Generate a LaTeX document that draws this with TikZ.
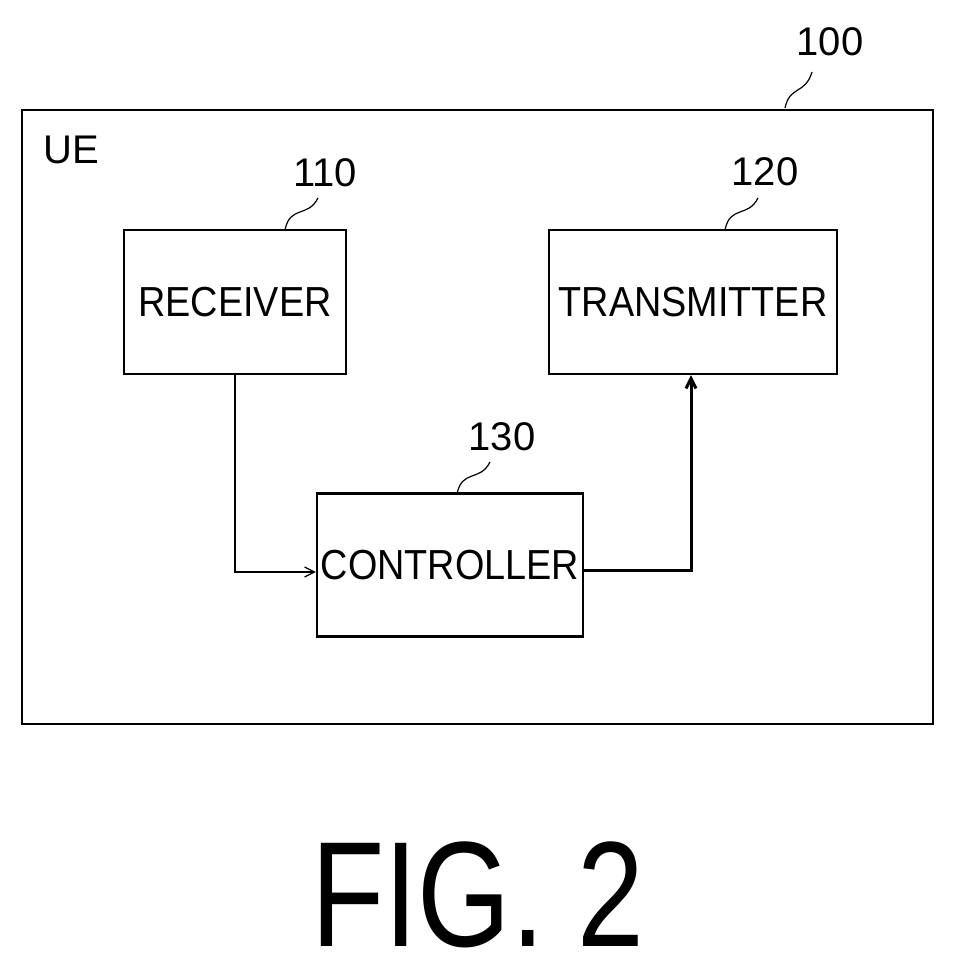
\documentclass[tikz,border=0pt]{standalone}
\usepackage{fontspec}
\setmainfont{Liberation Sans}
\usetikzlibrary{arrows.meta}
\begin{document}
\begin{tikzpicture}[x=1pt,y=-1pt,
 box/.style={draw,line width=2.2pt,inner sep=0pt},
 lbl/.style={font=\fontsize{42}{44}\selectfont},
 num/.style={font=\fontsize{40}{42}\selectfont},
 lead/.style={line width=1.2pt},
 arr/.style={-{Straight Barb[length=10pt,width=10pt]}}]
\useasboundingbox (0,0) rectangle (957,973);
\draw[box] (22,110) rectangle (933,724);
\node[anchor=west,num] (ue) at (40,150) {UE};
\node[num] (n100) at (830,42) {100};
\coordinate (c100) at (785,108);
\draw[lead] (c100) .. controls (790,85) and (805,95) .. (812,72);
\node[box,minimum width=222pt,minimum height=144pt] (rx) at (235,302) {};
\node[lbl,xscale=0.9] (rxt) at (rx) {RECEIVER};
\node[box,minimum width=288pt,minimum height=144pt] (tx) at (693,302) {};
\node[lbl,xscale=0.9] (txt) at (tx) {TRANSMITTER};
\node[box,minimum width=266pt,minimum height=143pt] (ct) at (450,565) {};
\node[lbl,xscale=0.9] (ctt) at (ct) {CONTROLLER};
\node[num] (n110) at (325,173) {110};
\draw[lead] (285,230) .. controls (290,205) and (308,218) .. (318,198);
\node[num] (n120) at (765,172) {120};
\draw[lead] (725,230) .. controls (730,205) and (748,218) .. (758,198);
\node[num] (n130) at (502,437) {130};
\draw[lead] (457,494) .. controls (462,469) and (480,482) .. (490,462);
\draw[arr,line width=1.2pt] (rx.south) -- (235,572) -- (ct.west |- 0,572);
\draw[arr,line width=3pt] (ct.east |- 0,570) -- (691,570) -- (tx.south -| 691,0);
\node[font=\fontsize{150}{150}\selectfont,xscale=0.8,inner sep=0pt,anchor=base] (fig) at (478,946) {FIG. 2};
\end{tikzpicture}
\end{document}
